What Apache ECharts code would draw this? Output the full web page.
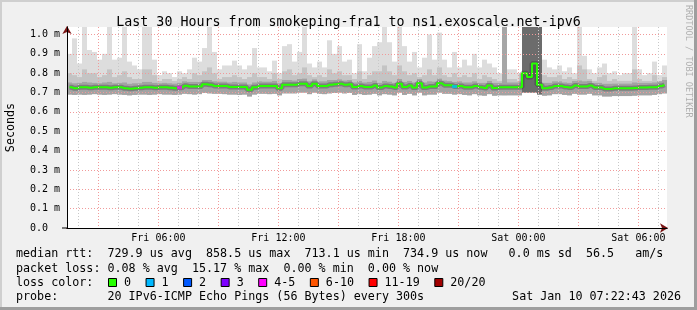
<!DOCTYPE html>
<html><head><meta charset="utf-8">
<script src="https://cdn.jsdelivr.net/npm/echarts@6/dist/echarts.min.js"></script>
<style>html,body{margin:0;padding:0;background:#f0f0f0}#c{width:697px;height:310px}</style>
</head><body><div id="c"></div>
<script>
// ---------- data ----------
const titleText = 'Last 30 Hours from smokeping-fra1 to ns1.exoscale.net-ipv6';
const startHour = 1.43;      // Fri 01:26 (hours since Fri 00:00)
const endHour = 31.43;
const binHours = 0.25;       // 15-minute bins
const xLabelHours = [6, 12, 18, 24, 30];
const xLabelText = ['Fri 06:00', 'Fri 12:00', 'Fri 18:00', 'Sat 00:00', 'Sat 06:00'];
const yMax = 1.0388;         // ms
const yStep = 0.1;

// median rtt (ms) per bin
const medianMs = [
 0.727,0.722,0.727,0.727,0.725,0.727,0.727,0.727,0.725,0.727,0.727,0.722,0.720,0.722,0.725,0.727,0.727,0.725,0.727,0.727,0.725,0.722,0.725,0.735,
 0.731,0.731,0.731,0.743,0.740,0.734,0.734,0.734,0.729,0.729,0.729,0.729,0.714,0.728,0.734,0.734,0.734,0.734,0.722,0.740,0.740,0.740,0.746,0.746,
 0.734,0.746,0.734,0.734,0.740,0.743,0.746,0.740,0.743,0.729,0.734,0.729,0.729,0.737,0.726,0.734,0.731,0.726,0.745,0.729,0.737,0.726,0.748,0.726,
 0.731,0.731,0.748,0.738,0.738,0.731,0.734,0.727,0.727,0.734,0.727,0.724,0.736,0.724,0.727,0.727,0.727,0.727,0.727,0.800,0.780,0.850,0.740,0.722,
 0.726,0.734,0.734,0.729,0.726,0.736,0.731,0.731,0.736,0.726,0.726,0.719,0.719,0.722,0.722,0.722,0.722,0.724,0.726,0.726,0.727,0.727,0.734,0.740
];
// highest ping (top of light smoke)
const maxMs = [
 0.90,0.98,0.85,1.04,0.92,0.91,0.87,0.90,1.04,0.87,0.88,1.04,0.86,0.84,0.82,1.04,1.04,0.87,0.79,0.81,0.80,0.78,0.81,0.80,
 0.82,0.88,0.86,0.93,1.04,0.91,0.82,0.84,0.84,0.865,0.84,0.82,0.84,0.93,0.83,0.83,0.81,0.865,0.80,0.94,0.95,0.86,0.91,1.04,
 0.85,0.83,0.86,0.83,0.97,0.90,0.94,0.86,0.87,0.80,0.95,0.81,0.88,0.94,0.96,1.04,0.96,0.86,1.04,0.94,0.86,0.91,0.83,0.88,
 1.00,0.87,1.01,0.87,0.83,0.91,0.83,0.87,0.84,0.90,0.83,0.87,0.85,0.83,0.80,1.04,0.82,0.82,0.80,1.04,1.04,1.04,1.04,0.87,
 0.83,0.82,0.84,0.81,0.83,0.80,1.04,0.89,0.82,0.80,0.83,0.85,0.80,0.81,0.79,0.80,0.80,1.04,0.82,0.79,0.80,0.86,0.79,0.84
];
// upper smoke (mid grey top)
const upperMs = [
 0.80,0.79,0.78,0.82,0.80,0.80,0.78,0.79,0.82,0.78,0.79,0.81,0.78,0.77,0.77,0.82,0.82,0.79,0.76,0.77,0.77,0.76,0.77,0.78,
 0.77,0.80,0.79,0.81,0.83,0.80,0.77,0.78,0.78,0.79,0.78,0.77,0.78,0.80,0.78,0.78,0.77,0.80,0.77,0.81,0.82,0.79,0.80,0.83,
 0.79,0.78,0.79,0.78,0.82,0.80,0.81,0.79,0.79,0.77,0.81,0.77,0.79,0.81,0.81,0.84,0.81,0.79,0.84,0.81,0.79,0.80,0.78,0.79,
 0.82,0.79,0.83,0.79,0.78,0.80,0.78,0.79,0.78,0.80,0.77,0.79,0.78,0.77,0.76,1.04,0.77,0.77,0.76,1.04,1.04,1.04,1.04,0.79,
 0.78,0.78,0.79,0.77,0.78,0.77,0.84,0.82,0.77,0.76,0.78,0.79,0.76,0.77,0.76,0.76,0.76,0.82,0.77,0.76,0.76,0.79,0.76,0.78
];
// inner smoke (dark grey top)
const coreMs = [
 0.752,0.748,0.750,0.755,0.752,0.750,0.748,0.752,0.755,0.748,0.750,0.752,0.745,0.748,0.748,0.755,0.755,0.750,0.748,0.750,0.748,0.746,0.750,0.758,
 0.755,0.755,0.755,0.765,0.765,0.758,0.756,0.756,0.752,0.755,0.752,0.752,0.742,0.752,0.758,0.756,0.756,0.760,0.748,0.765,0.765,0.762,0.770,0.772,
 0.758,0.768,0.758,0.758,0.765,0.765,0.768,0.762,0.765,0.752,0.760,0.752,0.755,0.762,0.750,0.760,0.756,0.750,0.770,0.755,0.760,0.752,0.770,0.752,
 0.758,0.756,0.772,0.762,0.760,0.755,0.758,0.752,0.752,0.758,0.750,0.750,0.760,0.750,0.750,0.760,0.752,0.752,0.752,1.04,1.04,1.04,1.04,0.750,
 0.750,0.758,0.758,0.752,0.750,0.760,0.762,0.758,0.760,0.750,0.750,0.745,0.745,0.746,0.746,0.746,0.746,0.752,0.750,0.750,0.750,0.752,0.758,0.765
];
// lowest ping (bottom of smoke)
const lowMs = [
 0.690,0.688,0.690,0.688,0.690,0.692,0.690,0.688,0.690,0.692,0.690,0.688,0.686,0.688,0.690,0.690,0.688,0.690,0.692,0.690,0.690,0.688,0.690,0.694,
 0.692,0.690,0.692,0.698,0.696,0.694,0.694,0.692,0.690,0.690,0.688,0.690,0.680,0.690,0.694,0.694,0.692,0.694,0.686,0.696,0.696,0.696,0.700,0.700,
 0.692,0.700,0.694,0.692,0.696,0.698,0.700,0.696,0.698,0.688,0.692,0.688,0.690,0.694,0.686,0.692,0.690,0.686,0.700,0.688,0.694,0.686,0.700,0.686,
 0.690,0.690,0.700,0.694,0.694,0.690,0.692,0.688,0.686,0.692,0.686,0.684,0.692,0.684,0.686,0.686,0.686,0.686,0.686,0.700,0.700,0.700,0.690,0.684,
 0.686,0.692,0.692,0.688,0.686,0.694,0.690,0.690,0.694,0.686,0.686,0.680,0.680,0.682,0.682,0.682,0.682,0.684,0.686,0.686,0.686,0.688,0.692,0.696
];
// bins whose median carries packet loss (bin index, loss class index)
const lossBins = [22, 77];
const lossClass = [4, 1];

const lossLabels = ['0', '1', '2', '3', '4-5', '6-10', '11-19', '20/20'];
const lossColors = ['#26ff00', '#00b8ff', '#0059ff', '#7e00ff', '#ff00ff', '#ff5500', '#ff0000', '#a10000'];

const rttStats = ['729.9', '858.5', '713.1', '734.9'];
const rttSd = '0.0';
const rttAms = '56.5';
const lossStats = ['0.08', '15.17', '0.00', '0.00'];
const probeText = '20 IPv6-ICMP Echo Pings (56 Bytes) every 300s';
const stampText = 'Sat Jan 10 07:22:43 2026';

// ---------- chart ----------
const MONO = 'DejaVu Sans Mono';
const chart = echarts.init(document.getElementById('c'), null, {renderer: 'canvas'});

const smokeData = maxMs.map((m, i) => [startHour + i * binHours, startHour + (i + 1) * binHours, lowMs[i], m, upperMs[i], coreMs[i]]);
const medData = medianMs.map((v, i) => [startHour + (i + 0.5) * binHours, v]);

const row1 = 'median rtt:  ' + rttStats[0] + ' us avg  ' + rttStats[1] + ' us max  ' + rttStats[2] + ' us min  ' + rttStats[3] + ' us now   ' + rttSd + ' ms sd  ' + rttAms + '   am/s';
const row2 = 'packet loss: ' + lossStats[0] + ' % avg  ' + lossStats[1] + ' % max  ' + lossStats[2] + ' % min  ' + lossStats[3] + ' % now';
const row4 = 'probe:       ' + probeText;

const CW = 7.05;
const FONT = '11.7px ' + MONO;
const graphics = [
  {type: 'rect', shape: {x: 0, y: 0, width: 697, height: 2}, style: {fill: '#cfcfcf'}, silent: true},
  {type: 'rect', shape: {x: 0, y: 0, width: 2, height: 310}, style: {fill: '#cfcfcf'}, silent: true},
  {type: 'rect', shape: {x: 0, y: 307, width: 697, height: 3}, style: {fill: '#9e9e9e'}, silent: true},
  {type: 'rect', shape: {x: 694, y: 0, width: 3, height: 310}, style: {fill: '#9e9e9e'}, silent: true},
  {type: 'rect', shape: {x: 62, y: 227.5, width: 5, height: 1}, style: {fill: '#000'}, silent: true},
  {type: 'text', x: 688, y: 5, rotation: -Math.PI / 2, style: {text: 'RRDTOOL / TOBI OETIKER', font: '8.5px ' + MONO, fill: '#b0b0b0', verticalAlign: 'middle', align: 'left'}},
  {type: 'text', x: 16, y: 254, style: {text: row1, font: FONT, fill: '#000', verticalAlign: 'middle'}},
  {type: 'text', x: 16, y: 268.5, style: {text: row2, font: FONT, fill: '#000', verticalAlign: 'middle'}},
  {type: 'text', x: 16, y: 283, style: {text: 'loss color:', font: FONT, fill: '#000', verticalAlign: 'middle'}},
  {type: 'text', x: 16, y: 297, style: {text: row4, font: FONT, fill: '#000', verticalAlign: 'middle'}},
  {type: 'text', x: 681, y: 297, style: {text: stampText, font: FONT, fill: '#000', verticalAlign: 'middle', align: 'right'}}
];
let lx = 108;
lossLabels.forEach((lab, k) => {
  graphics.push({type: 'rect', shape: {x: lx + 0.5, y: 278.5, width: 8, height: 8}, style: {fill: lossColors[k], stroke: '#000', lineWidth: 1}});
  graphics.push({type: 'text', x: lx + 16, y: 283, style: {text: lab, font: FONT, fill: '#000', verticalAlign: 'middle'}});
  lx = lx + 16 + lab.length * CW + 14.5;
});

const xLabelFmt = v => {
  const k = xLabelHours.indexOf(Math.round(v * 1000) / 1000);
  return k >= 0 ? xLabelText[k] : '';
};
const yLabelFmt = v => {
  if (Math.abs(v) < 1e-9) return '0.0  ';
  return v.toFixed(1) + ' m';
};

const option = {
  backgroundColor: '#f0f0f0',
  animation: false,
  title: {
    text: titleText, left: 'center', top: 11,
    textStyle: {fontFamily: MONO, fontSize: 13.3, fontWeight: 'normal', color: '#000'}
  },
  grid: {left: 67, top: 27, width: 600, height: 201, show: true, backgroundColor: '#ffffff', borderWidth: 0,
         containLabel: false, outerBoundsMode: 'none'},
  xAxis: [
    { // hourly minor grid + black axis line
      type: 'value', min: startHour, max: endHour, splitNumber: 30, minInterval: 1, maxInterval: 1, position: 'bottom', z: 4,
      axisLine: {show: true, onZero: false, lineStyle: {color: '#000', width: 1}},
      axisTick: {show: false}, axisLabel: {show: false},
      splitLine: {show: true, showMinLine: false, showMaxLine: false, lineStyle: {color: '#c8c8c8', width: 1, type: [1, 2]}}
    },
    { // 3-hour major grid + labels
      type: 'value', min: startHour, max: endHour, splitNumber: 10, minInterval: 3, maxInterval: 3, position: 'bottom', z: 5,
      axisLine: {show: false}, axisTick: {show: false},
      axisLabel: {show: true, formatter: xLabelFmt, fontFamily: MONO, fontSize: 10, color: '#000', margin: 5, showMinLabel: false, showMaxLabel: false},
      splitLine: {show: true, showMinLine: false, showMaxLine: false, lineStyle: {color: '#f19a9a', width: 1, type: [1, 2]}}
    },
    { // arrow
      type: 'value', min: startHour, max: endHour, position: 'bottom', z: 3,
      axisLine: {show: true, onZero: false, symbol: ['none', 'arrow'], symbolSize: [7, 8], symbolOffset: [0, 1], lineStyle: {color: '#7a1414', width: 1}},
      axisTick: {show: false}, axisLabel: {show: false}, splitLine: {show: false}
    }
  ],
  yAxis: [
    {
      type: 'value', min: 0, max: yMax, interval: yStep, position: 'left', z: 4,
      axisLine: {show: true, onZero: false, lineStyle: {color: '#000', width: 1}},
      axisTick: {show: false},
      axisLabel: {formatter: yLabelFmt, fontFamily: MONO, fontSize: 10, color: '#000', margin: 7, showMaxLabel: false},
      splitLine: {show: true, showMinLine: false, showMaxLine: false, lineStyle: {color: '#f19a9a', width: 1, type: [1, 2]}},
      name: 'Seconds', nameLocation: 'middle', nameGap: 50, nameRotate: 90,
      nameTextStyle: {fontFamily: MONO, fontSize: 11.7, color: '#000'}
    },
    {
      type: 'value', min: 0, max: yMax, interval: yStep, position: 'left', offset: 0, z: 3,
      axisLine: {show: true, onZero: false, symbol: ['none', 'arrow'], symbolSize: [7, 8], symbolOffset: [0, 1], lineStyle: {color: '#7a1414', width: 1}},
      axisTick: {show: false}, axisLabel: {show: false}, splitLine: {show: false}
    }
  ],
  series: [
    {
      type: 'custom', xAxisIndex: 0, yAxisIndex: 0, clip: true, z: 1,
      data: smokeData,
      encode: {x: [0, 1], y: [2, 3]},
      renderItem: (params, api) => {
        const t0 = api.value(0), t1 = api.value(1);
        const lo = api.value(2);
        const rect = (top, fill) => {
          const a = api.coord([t0, top]);
          const b = api.coord([t1, lo]);
          return {type: 'rect', shape: {x: a[0], y: a[1], width: b[0] - a[0], height: b[1] - a[1]}, style: {fill: fill}};
        };
        const up = api.value(4), co = api.value(5);
        return {type: 'group', children: [
          rect(api.value(3), '#dddddd'),
          rect(up, up >= yMax ? '#a6a6a6' : '#c4c4c4'),
          rect(co, co >= yMax ? '#6c6c6c' : '#a3a3a3')
        ]};
      }
    },
    {
      type: 'line', xAxisIndex: 0, yAxisIndex: 0, data: medData, step: 'middle', showSymbol: false, z: 2,
      lineStyle: {color: 'rgba(40,40,40,0.3)', width: 5}, silent: true
    },
    {
      type: 'line', xAxisIndex: 0, yAxisIndex: 0, data: medData, step: 'middle', showSymbol: false, z: 3,
      lineStyle: {color: lossColors[0], width: 2}, silent: true
    },
    {
      type: 'scatter', xAxisIndex: 0, yAxisIndex: 0, z: 4, symbol: 'rect', symbolSize: [5, 3],
      data: lossBins.map((b, k) => ({value: medData[b], itemStyle: {color: lossColors[lossClass[k]]}}))
    }
  ],
  graphic: graphics
};
chart.setOption(option);
</script>
</body></html>
